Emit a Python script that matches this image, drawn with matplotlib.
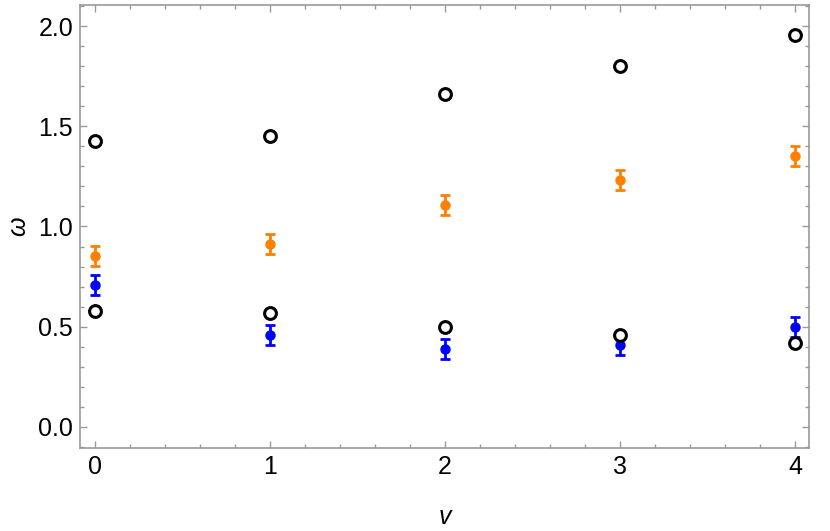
import matplotlib
matplotlib.use("Agg")
import matplotlib.pyplot as plt
from matplotlib.ticker import MultipleLocator

plt.rcParams['font.family'] = ['Liberation Sans', 'DejaVu Sans']

# data
v = [0, 1, 2, 3, 4]
upper_open = [1.425, 1.45, 1.66, 1.80, 1.955]
lower_open = [0.58, 0.57, 0.50, 0.46, 0.42]
orange_y = [0.855, 0.915, 1.105, 1.23, 1.35]
orange_err = [0.05, 0.05, 0.05, 0.05, 0.05]
blue_y = [0.71, 0.46, 0.39, 0.41, 0.50]
blue_err = [0.05, 0.05, 0.05, 0.05, 0.05]

frame_col = "#999999"
orange = "#FF8000"
blue = "#0000FF"

fig = plt.figure(figsize=(8.3, 5.31), dpi=100)
ax = fig.add_axes([0.0964, 0.1563, 0.8783, 0.8343])

ax.errorbar(v, orange_y, yerr=orange_err, fmt="o", color=orange, ms=6.5,
            elinewidth=2, capsize=3.5, capthick=2, zorder=3)
ax.errorbar(v, blue_y, yerr=blue_err, fmt="o", color=blue, ms=6.5,
            elinewidth=2, capsize=3.5, capthick=2, zorder=3)
ax.plot(v, upper_open, "o", mfc="white", mec="black", ms=8.5, mew=2.2, ls="none", zorder=4)
ax.plot(v, lower_open, "o", mfc="white", mec="black", ms=8.5, mew=2.2, ls="none", zorder=4)

ax.set_xlim(-0.086, 4.08)
ax.set_ylim(-0.105, 2.105)
ax.xaxis.set_major_locator(MultipleLocator(1))
ax.xaxis.set_minor_locator(MultipleLocator(0.2))
ax.yaxis.set_major_locator(MultipleLocator(0.5))
ax.yaxis.set_minor_locator(MultipleLocator(0.1))
ax.yaxis.set_major_formatter(matplotlib.ticker.FormatStrFormatter("%.1f"))

for s in ax.spines.values():
    s.set_color(frame_col)
    s.set_linewidth(1.2)
ax.tick_params(which="both", direction="in", top=True, right=True,
               color=frame_col, width=1, labelsize=18)
ax.tick_params(which="major", length=5, pad=5)
ax.tick_params(which="minor", length=3)

ax.set_xlabel("v", fontsize=18, style="italic", labelpad=19)
ax.set_ylabel("ω", fontsize=18, style="italic", rotation=90, labelpad=6)

fig.savefig("out.png", dpi=100)
